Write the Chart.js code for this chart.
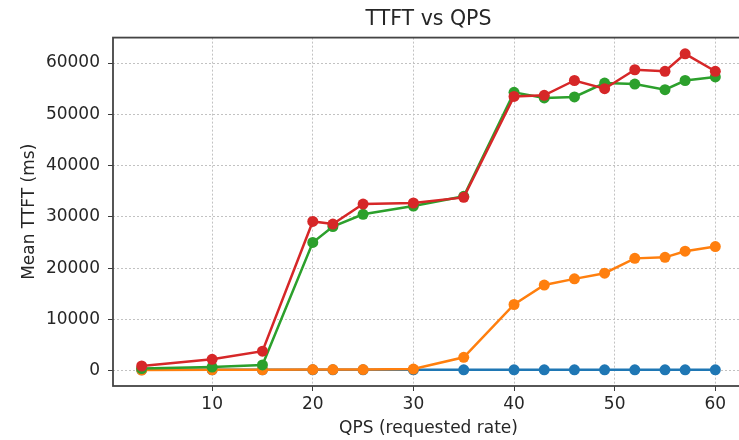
<!DOCTYPE html>
<html>
<head>
<meta charset="utf-8">
<title>TTFT vs QPS</title>
<script src="https://cdn.jsdelivr.net/npm/chart.js@4/dist/chart.umd.min.js"></script>
<style>
  html, body { margin: 0; padding: 0; background: #fff; overflow: hidden; }
  canvas { display: block; }
</style>
</head>
<body>
<canvas id="ttft-chart" width="760" height="440"></canvas>
<script>
// requested QPS and mean TTFT (ms) for each run
const qps        = [3, 10, 15, 20, 22, 25, 30, 35, 40, 43, 46, 49, 52, 55, 57, 60];
const ttftBlue   = [150, 150, 150, 150, 150, 150, 150, 150, 150, 150, 150, 150, 150, 150, 150, 150];
const ttftOrange = [100, 150, 150, 200, 200, 200, 300, 2600, 12900, 16700, 17900, 19000, 21900, 22100, 23300, 24200];
const ttftGreen  = [400, 700, 1100, 25000, 28100, 30500, 32100, 34000, 54300, 53200, 53400, 56100, 55900, 54800, 56600, 57300];
const ttftRed    = [900, 2200, 3800, 29100, 28600, 32500, 32700, 33800, 53500, 53700, 56600, 55000, 58700, 58400, 61800, 58400];
const yTicks     = [0, 10000, 20000, 30000, 40000, 50000, 60000];

const FONT = 'DejaVu Sans';
Chart.defaults.font.family = FONT;
Chart.defaults.color = '#262626';

function series(label, values, color, order) {
    return {
        label,
        data: qps.map((x, i) => ({ x, y: values[i] })),
        borderColor: color,
        backgroundColor: color,
        pointBackgroundColor: color,
        pointBorderColor: color,
        pointBorderWidth: 0,
        pointRadius: 5.5,
        borderWidth: 2.5,
        tension: 0,
        order
    };
}

// box around the plotting area, drawn over the lines like matplotlib spines
const axesFrame = {
    id: 'axesFrame',
    afterDatasetsDraw(chart) {
        const { ctx, chartArea: a } = chart;
        ctx.save();
        ctx.strokeStyle = '#444';
        ctx.lineWidth = 1.8;
        ctx.strokeRect(a.left, a.top, a.right - a.left, a.bottom - a.top);
        ctx.restore();
    }
};

const gridStyle = {
    color: '#c2c2c2',
    lineWidth: 1,
    tickColor: '#3a3a3a',
    tickLength: 5,
    tickWidth: 1,
    tickBorderDash: []
};

new Chart(document.getElementById('ttft-chart').getContext('2d'), {
    type: 'line',
    data: {
        datasets: [
            series('blue',   ttftBlue,   '#1f77b4', 3),
            series('orange', ttftOrange, '#ff7f0e', 2),
            series('green',  ttftGreen,  '#2ca02c', 1),
            series('red',    ttftRed,    '#d62728', 0)
        ]
    },
    options: {
        responsive: false,
        animation: false,
        layout: { padding: { left: 0, right: 16, top: 0, bottom: 0 } },
        plugins: {
            legend: { display: false },
            tooltip: { enabled: false },
            title: {
                display: true,
                text: 'TTFT vs QPS',
                fullSize: false,
                color: '#262626',
                font: { family: FONT, size: 20.5, weight: 'normal' },
                padding: { top: 7, bottom: 6 }
            }
        },
        scales: {
            x: {
                type: 'linear',
                min: 0.15,
                max: 62.85,
                grid: gridStyle,
                border: { display: false, dash: [2, 2] },
                ticks: {
                    stepSize: 10,
                    includeBounds: false,
                    padding: 3,
                    maxRotation: 0,
                    color: '#262626',
                    font: { size: 17 }
                },
                title: {
                    display: true,
                    text: 'QPS (requested rate)',
                    color: '#262626',
                    font: { size: 17 },
                    padding: { top: 0, bottom: 1 }
                },
                afterFit(scale) { scale.height = 54; }
            },
            y: {
                type: 'linear',
                min: -3000,
                max: 64970,
                grid: gridStyle,
                border: { display: false, dash: [2, 2] },
                afterBuildTicks(scale) { scale.ticks = yTicks.map(v => ({ value: v })); },
                ticks: {
                    padding: 8,
                    color: '#262626',
                    font: { size: 17 },
                    callback: v => String(v)
                },
                title: {
                    display: true,
                    text: 'Mean TTFT (ms)',
                    color: '#262626',
                    font: { size: 17 },
                    padding: { top: 19, bottom: 0 }
                },
                afterFit(scale) { scale.width = 113; }
            }
        }
    },
    plugins: [axesFrame]
});
</script>
</body>
</html>
